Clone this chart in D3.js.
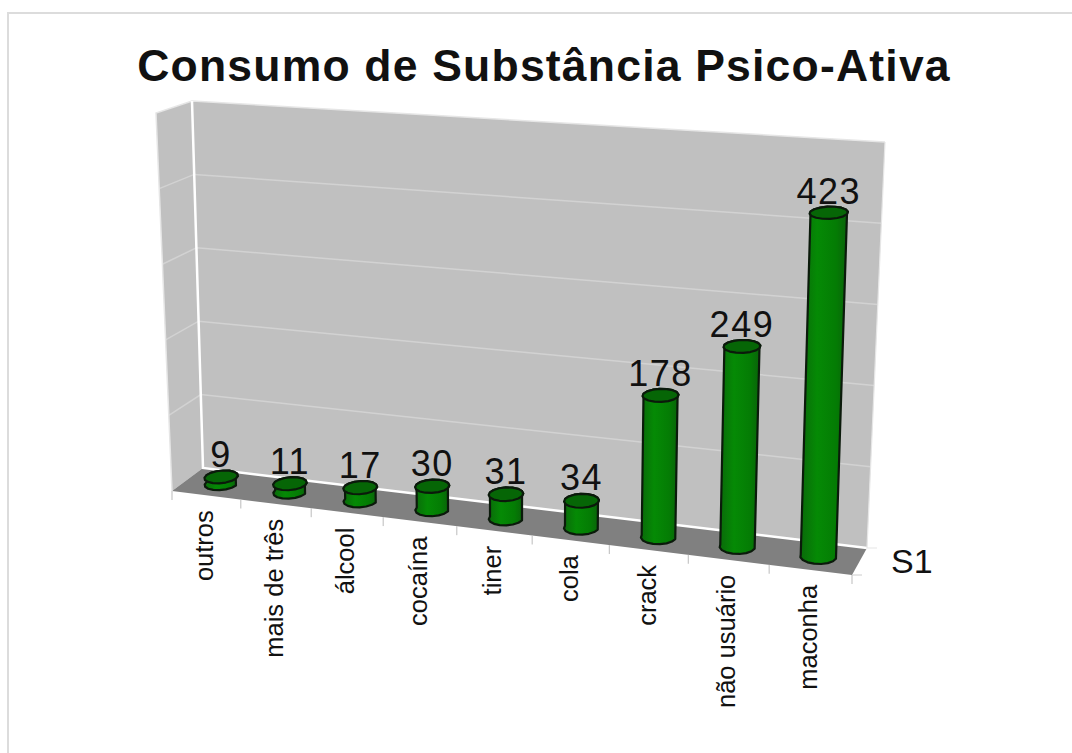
<!DOCTYPE html>
<html>
<head>
<meta charset="utf-8">
<script src="https://cdnjs.cloudflare.com/ajax/libs/d3/7.8.5/d3.min.js"></script>
<style>
  html, body { margin: 0; padding: 0; background: #fff; }
  svg { display: block; }
  text { font-family: "Liberation Sans", Arial, sans-serif; fill: #111; }
</style>
</head>
<body>
<svg id="chart" width="1072" height="753"></svg>
<script>
var categories = ['outros', 'mais de três', 'álcool', 'cocaína', 'tiner', 'cola', 'crack', 'não usuário', 'maconha'];
var values = [9, 11, 17, 30, 31, 34, 178, 249, 423];
var gridTicks = [100, 200, 300, 400];
var chartTitle = 'Consumo de Substância Psico-Ativa';
var seriesName = 'S1';

var svg = d3.select('#chart');

// corners of the 3d box as seen in the picture
var box = {
  frontBottomLeft: [172, 491], frontBottomRight: [852, 575],
  backBottomLeft: [203, 468], backBottomRight: [867, 548],
  frontTopLeft: [156, 113], frontTopRight: [862, 164],
  backTopLeft: [192, 101], backTopRight: [885, 142]
};

var xScale = d3.scaleBand().domain(categories).range([0, 1]);
var yScale = d3.scaleLinear().domain([0, 500]).range([0, 1]);

// the right side is closer to the camera so cells get wider
var perspective = 1.11;
function warp(u) {
  return u / (perspective - (perspective - 1) * u);
}

function mix(a, b, t) {
  return [a[0] + (b[0] - a[0]) * t, a[1] + (b[1] - a[1]) * t];
}

// u along categories, v up the value axis, d depth (0 front, 1 back)
function project(u, v, d) {
  var w = warp(u);
  var bottom = mix(mix(box.frontBottomLeft, box.frontBottomRight, w), mix(box.backBottomLeft, box.backBottomRight, w), d);
  var top = mix(mix(box.frontTopLeft, box.frontTopRight, w), mix(box.backTopLeft, box.backTopRight, w), d);
  return mix(bottom, top, v);
}

var line = d3.line();
function poly(points) { return line(points) + 'Z'; }

var defs = svg.append('defs');
var grad = defs.append('linearGradient').attr('id', 'barFill');
grad.append('stop').attr('offset', '0%').attr('stop-color', '#0a6a0a');
grad.append('stop').attr('offset', '35%').attr('stop-color', '#058a05');
grad.append('stop').attr('offset', '75%').attr('stop-color', '#047c04');
grad.append('stop').attr('offset', '100%').attr('stop-color', '#0a620a');

// outer frame, only top and left are inside the picture
svg.append('path')
  .attr('d', 'M8,753V13H1072')
  .attr('fill', 'none')
  .attr('stroke', '#dcdcdc')
  .attr('stroke-width', 2);

svg.append('text')
  .attr('x', 544)
  .attr('y', 81)
  .attr('text-anchor', 'middle')
  .attr('font-size', 44.5)
  .attr('font-weight', 'bold')
  .attr('letter-spacing', 1.2)
  .text(chartTitle);

// walls
svg.append('path')
  .attr('d', poly([project(0, 0, 0), project(0, 1, 0), project(0, 1, 1), project(0, 0, 1)]))
  .attr('fill', '#c0c0c0');
svg.append('path')
  .attr('d', poly([project(0, 0, 1), project(0, 1, 1), project(1, 1, 1), project(1, 0, 1)]))
  .attr('fill', '#c0c0c0');
svg.append('path')
  .attr('d', poly([project(0, 0, 0), project(1, 0, 0), project(1, 0, 1), project(0, 0, 1)]))
  .attr('fill', '#808080');

// gridlines on both walls
gridTicks.forEach(function(t) {
  var v = yScale(t);
  svg.append('path')
    .attr('d', line([project(0, v, 0), project(0, v, 1), project(1, v, 1)]))
    .attr('fill', 'none')
    .attr('stroke', '#d2d2d2')
    .attr('stroke-width', 1.5);
});

// wall edges
svg.append('path')
  .attr('d', line([project(0, 0, 0), project(0, 1, 0), project(0, 1, 1), project(1, 1, 1)]))
  .attr('fill', 'none').attr('stroke', '#e6e6e6').attr('stroke-width', 1.5);
svg.append('path')
  .attr('d', line([project(0, 1, 1), project(0, 0, 1), project(1, 0, 1)]))
  .attr('fill', 'none').attr('stroke', '#fff').attr('stroke-width', 2.5);
svg.append('path')
  .attr('d', line([project(1, 1, 1), project(1, 0, 1), [project(1, 0, 1)[0] + 10, project(1, 0, 1)[1]]]))
  .attr('fill', 'none').attr('stroke', '#e6e6e6').attr('stroke-width', 1.2);

// ticks under the front edge of the floor
d3.range(categories.length + 1).forEach(function(i) {
  var p = project(i / categories.length, 0, 0);
  svg.append('line')
    .attr('x1', p[0]).attr('y1', p[1])
    .attr('x2', p[0]).attr('y2', p[1] + 9)
    .attr('stroke', '#bbb');
});
svg.append('line')
  .attr('x1', project(1, 0, 0)[0]).attr('y1', project(1, 0, 0)[1])
  .attr('x2', project(1, 0, 0)[0] + 10).attr('y2', project(1, 0, 0)[1])
  .attr('stroke', '#ccc');

// one disc of the cylinder, a coarse polygon like the original
function disc(u, v, halfU) {
  return d3.range(0, 17).map(function(i) {
    var a = i / 16 * 2 * Math.PI;
    return project(u + Math.cos(a) * halfU, v, 0.5 + Math.sin(a) * 0.27);
  });
}

var rows = categories.map(function(c, i) {
  return { name: c, value: values[i] };
});

var bars = svg.selectAll('.bar').data(rows).enter().append('g').attr('class', 'bar');

bars.each(function(d) {
  var g = d3.select(this);
  var u = xScale(d.name) + xScale.bandwidth() / 2;
  var half = xScale.bandwidth() * 0.215;
  var v = yScale(d.value);
  var base = disc(u, 0, half);
  var cap = disc(u, v, half);
  // silhouette: front half of base, back half of cap
  var body = base.slice(8, 17).concat(cap.slice(0, 9));
  g.append('path')
    .attr('d', poly(body))
    .attr('fill', 'url(#barFill)')
    .attr('stroke', '#0b1a0b')
    .attr('stroke-width', 2.2)
    .attr('stroke-linejoin', 'round');
  g.append('path')
    .attr('d', poly(cap.slice(0, 16)))
    .attr('fill', '#066606')
    .attr('stroke', '#0b1a0b')
    .attr('stroke-width', 2.2)
    .attr('stroke-linejoin', 'round');
});

// value labels sit on the back wall height
bars.append('text')
  .attr('x', function(d) {
    return project(xScale(d.name) + xScale.bandwidth() / 2, yScale(d.value), 0.5)[0];
  })
  .attr('y', function(d) {
    return project(xScale(d.name) + xScale.bandwidth() / 2, yScale(d.value), 1)[1] + 2;
  })
  .attr('text-anchor', 'middle')
  .attr('font-size', 36)
  .attr('letter-spacing', 1.5)
  .text(function(d) { return d.value; });

// category labels, rotated
svg.selectAll('.cat').data(categories).enter().append('text')
  .attr('class', 'cat')
  .attr('transform', function(d) {
    var p = project(xScale(d) + xScale.bandwidth() / 2, 0, 0);
    return 'translate(' + (p[0] + 7) + ',' + (p[1] + 15) + ') rotate(-90)';
  })
  .attr('text-anchor', 'end')
  .attr('font-size', 25.5)
  .text(function(d) { return d; });

svg.append('text')
  .attr('x', project(1, 0, 0)[0] + 39)
  .attr('y', 573)
  .attr('font-size', 34)
  .text(seriesName);
</script>
</body>
</html>
